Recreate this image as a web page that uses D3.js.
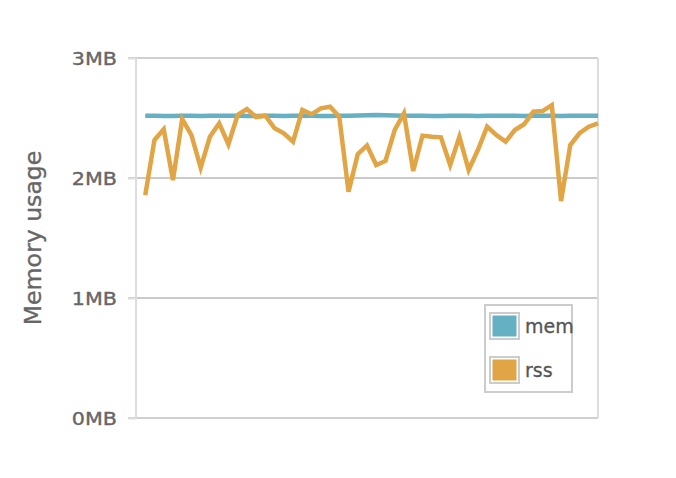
<!DOCTYPE html>
<html>
<head>
<meta charset="utf-8">
<script src="https://cdn.jsdelivr.net/npm/d3@7"></script>
<style>
  html, body { margin: 0; padding: 0; background: #fff; }
  svg { display: block; font-family: "DejaVu Sans", sans-serif; }
</style>
</head>
<body>
<div id="chart"></div>
<script>
// memory samples, in MB, one per tick of the sampler
var rss = [1.858, 2.317, 2.406, 1.983, 2.492, 2.358, 2.086, 2.344, 2.456, 2.281,
           2.525, 2.575, 2.508, 2.519, 2.414, 2.373, 2.303, 2.567, 2.531, 2.581,
           2.594, 2.511, 1.886, 2.198, 2.271, 2.108, 2.142, 2.400, 2.539, 2.058,
           2.353, 2.344, 2.339, 2.108, 2.344, 2.067, 2.233, 2.428, 2.358, 2.303,
           2.400, 2.448, 2.553, 2.558, 2.608, 1.808, 2.275, 2.373, 2.428, 2.456];
var mem = [2.518, 2.518, 2.517, 2.517, 2.518, 2.518, 2.517, 2.518, 2.518, 2.518,
           2.518, 2.517, 2.517, 2.518, 2.518, 2.517, 2.518, 2.518, 2.518, 2.517,
           2.517, 2.518, 2.518, 2.520, 2.523, 2.525, 2.523, 2.520, 2.518, 2.518,
           2.518, 2.517, 2.517, 2.518, 2.518, 2.518, 2.517, 2.518, 2.518, 2.518,
           2.518, 2.517, 2.518, 2.518, 2.518, 2.517, 2.518, 2.518, 2.518, 2.518];
var yTicks = [0, 1, 2, 3];
var seriesNames = ["mem", "rss"];
var seriesColors = ["#66b0c3", "#e1a545"];

var width = 676, height = 478;
var margin = {top: 58, right: 78, bottom: 60, left: 136};

var svg = d3.select("#chart").append("svg")
    .attr("width", width)
    .attr("height", height);

var x = d3.scaleLinear()
    .domain([-1, rss.length - 1])
    .range([margin.left, width - margin.right]);

var y = d3.scaleLinear()
    .domain([0, 3])
    .range([height - margin.bottom, margin.top]);

// grid lines
svg.append("g")
  .selectAll("line")
  .data(yTicks)
  .join("line")
    .attr("x1", margin.left - 8)
    .attr("x2", width - margin.right)
    .attr("y1", d => y(d))
    .attr("y2", d => y(d))
    .attr("stroke", d => d == 0 || d == 3 ? "#d0d0d0" : "#cacaca")
    .attr("stroke-width", 2);

// frame, left + right
svg.append("line")
    .attr("x1", margin.left).attr("x2", margin.left)
    .attr("y1", y(3)).attr("y2", y(0))
    .attr("stroke", "#dddddd").attr("stroke-width", 2);
svg.append("line")
    .attr("x1", width - margin.right).attr("x2", width - margin.right)
    .attr("y1", y(3)).attr("y2", y(0))
    .attr("stroke", "#dddddd").attr("stroke-width", 2);

// y axis labels (the font in the original is wider, so stretch a bit)
var yAxis = svg.append("g")
    .attr("transform", "translate(" + margin.left + ",0)")
    .call(d3.axisLeft(y).tickValues(yTicks).tickFormat(d => d + "MB").tickSize(8));
yAxis.select(".domain").remove();
yAxis.selectAll(".tick line").attr("stroke", "#dddddd").attr("stroke-width", 2);
yAxis.selectAll(".tick text")
    .attr("x", -19 / 1.15)
    .attr("dy", "0.36em")
    .attr("transform", "scale(1.15,1)")
    .attr("fill", "#666")
    .attr("stroke", "#666")
    .attr("stroke-width", 0.35)
    .attr("font-size", "18px")
    .attr("font-family", "DejaVu Sans, sans-serif");

svg.append("text")
    .attr("transform", "translate(41," + y(1.5) + ") rotate(-90) scale(1.05,1)")
    .attr("text-anchor", "middle")
    .attr("fill", "#666")
    .attr("stroke", "#666")
    .attr("stroke-width", 0.35)
    .attr("font-size", "22.5px")
    .text("Memory usage");

// lines
var line = d3.line()
    .x((d, i) => x(i))
    .y(d => y(d));

var series = [mem, rss];
svg.append("g")
  .selectAll("path")
  .data(series)
  .join("path")
    .attr("d", line)
    .attr("fill", "none")
    .attr("stroke", (d, i) => seriesColors[i])
    .attr("stroke-width", 4.5)
    .attr("stroke-linejoin", "miter");

// legend
var legend = svg.append("g").attr("transform", "translate(485,305)");
legend.append("rect")
    .attr("width", 87).attr("height", 87)
    .attr("fill", "#fff")
    .attr("stroke", "#cccccc").attr("stroke-width", 2);

var item = legend.selectAll(".item")
  .data(seriesNames)
  .join("g")
    .attr("class", "item")
    .attr("transform", (d, i) => "translate(5," + (8 + i * 44) + ")");
item.append("rect")
    .attr("width", 29).attr("height", 26)
    .attr("fill", "#fff")
    .attr("stroke", "#cccccc").attr("stroke-width", 2);
item.append("rect")
    .attr("x", 2.5).attr("y", 2.5)
    .attr("width", 24).attr("height", 21)
    .attr("fill", (d, i) => seriesColors[i]);
item.append("text")
    .attr("x", 35).attr("y", 20)
    .attr("fill", "#555")
    .attr("stroke", "#555")
    .attr("stroke-width", 0.3)
    .attr("font-size", "19px")
    .text(d => d);
</script>
</body>
</html>
